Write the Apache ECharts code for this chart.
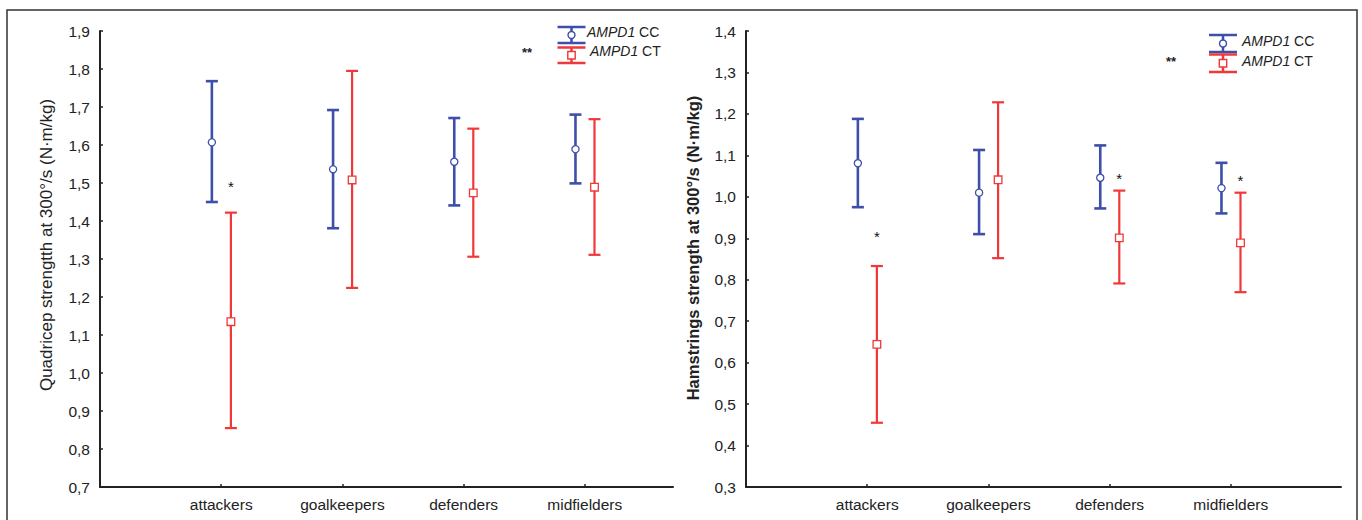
<!DOCTYPE html>
<html>
<head>
<meta charset="utf-8">
<script src="https://cdn.jsdelivr.net/npm/echarts@6/dist/echarts.min.js"></script>
<style>
  html, body { margin: 0; padding: 0; background: #fff; }
  #container { width: 1362px; height: 520px; }
</style>
</head>
<body>
<div id="container"></div>
<script>
var cats = ['attackers', 'goalkeepers', 'defenders', 'midfielders'];

// quadricep strength, mean and interval ends
var quadCCMean = [1.607, 1.536, 1.556, 1.589];
var quadCCLow = [1.450, 1.381, 1.441, 1.499];
var quadCCHigh = [1.768, 1.692, 1.671, 1.680];
var quadCTMean = [1.135, 1.508, 1.474, 1.489];
var quadCTLow = [0.855, 1.224, 1.306, 1.311];
var quadCTHigh = [1.422, 1.795, 1.643, 1.668];
var quadStars = [1.49, null, null, null];

// hamstrings strength
var hamCCMean = [1.081, 1.010, 1.046, 1.021];
var hamCCLow = [0.975, 0.910, 0.972, 0.960];
var hamCCHigh = [1.188, 1.113, 1.124, 1.082];
var hamCTMean = [0.644, 1.041, 0.901, 0.889];
var hamCTLow = [0.455, 0.852, 0.791, 0.770];
var hamCTHigh = [0.833, 1.228, 1.015, 1.010];
var hamStars = [0.905, null, 1.045, 1.04];

var quadTicks = ['0,7', '0,8', '0,9', '1,0', '1,1', '1,2', '1,3', '1,4', '1,5', '1,6', '1,7', '1,8', '1,9'];
var hamTicks = ['0,3', '0,4', '0,5', '0,6', '0,7', '0,8', '0,9', '1,0', '1,1', '1,2', '1,3', '1,4'];

var BLUE = '#3d4eab';
var RED = '#f03838';
var AX = '#222';

var dom = document.getElementById('container');
var myChart = echarts.init(dom, null, { renderer: 'svg' });

function barData(mean, low, high, off) {
    return mean.map(function (m, i) { return [i + 1 + off, m, low[i], high[i]]; });
}

function starData(stars) {
    var out = [];
    stars.forEach(function (s, i) { if (s != null) out.push([i + 1 + 0.08, s]); });
    return out;
}

function errorBar(color, shape, lw) {
    return function (params, api) {
        var x = api.value(0);
        var mid = api.coord([x, api.value(1)]);
        var lo = api.coord([x, api.value(2)]);
        var hi = api.coord([x, api.value(3)]);
        var hw = 6;
        var st = { stroke: color, lineWidth: lw };
        var marker = shape === 'circle'
            ? { type: 'circle', shape: { cx: mid[0], cy: mid[1], r: 3.6 }, style: { fill: '#fff', stroke: color, lineWidth: 1.3 } }
            : { type: 'rect', shape: { x: mid[0] - 3.8, y: mid[1] - 3.8, width: 7.6, height: 7.6 }, style: { fill: '#fff', stroke: color, lineWidth: 1.3 } };
        return {
            type: 'group',
            children: [
                { type: 'line', shape: { x1: lo[0], y1: lo[1], x2: hi[0], y2: hi[1] }, style: st },
                { type: 'line', shape: { x1: lo[0] - hw, y1: lo[1], x2: lo[0] + hw, y2: lo[1] }, style: st },
                { type: 'line', shape: { x1: hi[0] - hw, y1: hi[1], x2: hi[0] + hw, y2: hi[1] }, style: st },
                marker
            ]
        };
    };
}

function starItem(params, api) {
    var p = api.coord([api.value(0), api.value(1)]);
    return {
        type: 'text', x: p[0], y: p[1],
        style: { text: '*', fill: '#111', fontFamily: 'Liberation Sans', fontSize: 15, align: 'center', verticalAlign: 'middle' }
    };
}

function xAxisFor(idx, max) {
    return {
        type: 'value', gridIndex: idx, min: 0, max: max, interval: 1,
        axisLine: { lineStyle: { color: AX, width: 2 } },
        axisTick: { inside: true, length: 3, lineStyle: { color: AX, width: 1.5 } },
        splitLine: { show: false },
        axisLabel: {
            margin: 9, fontFamily: 'Liberation Sans', fontSize: 15.5, color: '#222',
            showMaxLabel: false, showMinLabel: false,
            formatter: function (v) { return cats[Math.round(v) - 1] || ''; }
        }
    };
}

function yAxisFor(idx, min, max, ticks) {
    return {
        type: 'value', gridIndex: idx, min: min, max: max, interval: 0.1,
        axisLine: { show: true, lineStyle: { color: AX, width: 2 } },
        axisTick: { show: true, inside: true, length: 3, lineStyle: { color: AX, width: 1.5 } },
        splitLine: { show: false },
        axisLabel: {
            margin: 10, fontFamily: 'Liberation Sans', fontSize: 15.5, color: '#222',
            formatter: function (v) { return ticks[Math.round((v - min) * 10)]; }
        }
    };
}

function legendIcon(cx, top, bottom, color, shape) {
    var mid = (top + bottom) / 2;
    var st = { stroke: color, lineWidth: 2.5 };
    var marker = shape === 'circle'
        ? { type: 'circle', shape: { cx: cx, cy: mid, r: 3.5 }, style: { fill: '#fff', stroke: color, lineWidth: 1.4 } }
        : { type: 'rect', shape: { x: cx - 3.7, y: mid - 3.7, width: 7.4, height: 7.4 }, style: { fill: '#fff', stroke: color, lineWidth: 1.4 } };
    return {
        type: 'group', children: [
            { type: 'line', shape: { x1: cx, y1: top, x2: cx, y2: bottom }, style: st },
            { type: 'line', shape: { x1: cx - 14, y1: top, x2: cx + 14, y2: top }, style: st },
            { type: 'line', shape: { x1: cx - 14, y1: bottom, x2: cx + 14, y2: bottom }, style: st },
            marker
        ]
    };
}

function legendText(x, y, label) {
    return {
        type: 'text', left: x, top: y - 8,
        style: {
            text: '{i|AMPD1} ' + label, fill: '#222', fontFamily: 'Liberation Sans', fontSize: 14,
            rich: { i: { fontStyle: 'italic', fontFamily: 'Liberation Sans', fontSize: 14, fill: '#222' } }
        }
    };
}

option = {
    animation: false,
    backgroundColor: '#fff',
    grid: [
        { left: 100, top: 31, width: 573, height: 456 },
        { left: 746, top: 31, width: 595, height: 456 }
    ],
    xAxis: [xAxisFor(0, 573 / 121.2), xAxisFor(1, 595 / 121.2)],
    yAxis: [yAxisFor(0, 0.7, 1.9, quadTicks), yAxisFor(1, 0.3, 1.4, hamTicks)],
    graphic: [
        { type: 'rect', shape: { x: 7, y: 10, width: 1350, height: 530 }, style: { fill: 'none', stroke: '#333', lineWidth: 1.5 } },
        {
            type: 'text', x: 46, y: 245, rotation: Math.PI / 2,
            style: { text: 'Quadricep strengtth at 300°/s (N·m/kg)', fill: '#222', fontFamily: 'Liberation Sans', fontSize: 17, align: 'center', verticalAlign: 'middle' }
        },
        {
            type: 'text', x: 693, y: 248, rotation: Math.PI / 2,
            style: { text: 'Hamstrings strength at 300°/s (N·m/kg)', fill: '#222', fontFamily: 'Liberation Sans', fontSize: 16.5, fontWeight: 'bold', align: 'center', verticalAlign: 'middle' }
        },
        legendIcon(571.5, 27, 43, BLUE, 'circle'),
        legendIcon(571.5, 47.5, 63, RED, 'square'),
        legendText(587, 33, 'CC'),
        legendText(590, 52, 'CT'),
        { type: 'text', left: 522, top: 46, style: { text: '**', fill: '#222', fontFamily: 'Liberation Sans', fontSize: 13, fontWeight: 'bold' } },
        legendIcon(1223, 35, 52, BLUE, 'circle'),
        legendIcon(1223, 54.5, 72, RED, 'square'),
        legendText(1242, 41.5, 'CC'),
        legendText(1242, 61.5, 'CT'),
        { type: 'text', left: 1166, top: 55, style: { text: '**', fill: '#222', fontFamily: 'Liberation Sans', fontSize: 13, fontWeight: 'bold' } }
    ],
    series: [
        { name: 'AMPD1 CC', type: 'custom', xAxisIndex: 0, yAxisIndex: 0, renderItem: errorBar(BLUE, 'circle', 2.6), data: barData(quadCCMean, quadCCLow, quadCCHigh, -0.077) },
        { name: 'AMPD1 CT', type: 'custom', xAxisIndex: 0, yAxisIndex: 0, renderItem: errorBar(RED, 'square', 2.2), data: barData(quadCTMean, quadCTLow, quadCTHigh, 0.08) },
        { type: 'custom', xAxisIndex: 0, yAxisIndex: 0, renderItem: starItem, data: starData(quadStars) },
        { name: 'AMPD1 CC', type: 'custom', xAxisIndex: 1, yAxisIndex: 1, renderItem: errorBar(BLUE, 'circle', 2.6), data: barData(hamCCMean, hamCCLow, hamCCHigh, -0.077) },
        { name: 'AMPD1 CT', type: 'custom', xAxisIndex: 1, yAxisIndex: 1, renderItem: errorBar(RED, 'square', 2.2), data: barData(hamCTMean, hamCTLow, hamCTHigh, 0.08) },
        { type: 'custom', xAxisIndex: 1, yAxisIndex: 1, renderItem: starItem, data: starData(hamStars) }
    ]
};
myChart.setOption(option);

window.addEventListener('resize', function () {
    myChart.resize();
});
</script>
</body>
</html>
